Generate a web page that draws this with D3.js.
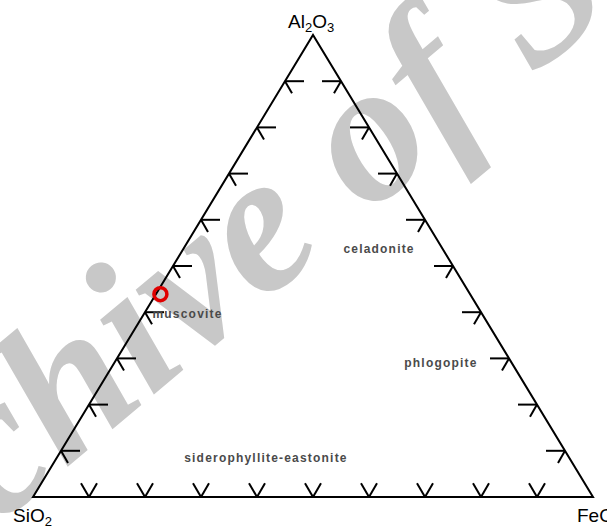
<!DOCTYPE html>
<html>
<head>
<meta charset="utf-8">
<script src="https://cdn.jsdelivr.net/npm/d3@7"></script>
<style>
  body { margin: 0; background: #fff; }
  .edge { fill: none; stroke: #000; stroke-width: 2; }
  .tick { stroke: #000; stroke-width: 2; }
  .vlabel { font-family: "Liberation Sans", Arial, sans-serif; font-size: 19px; fill: #000; }
  .field { font-family: "Liberation Sans", Arial, sans-serif; font-size: 12px; font-weight: bold; fill: #4a4a4a; letter-spacing: 1.2px; }
  .wm { font-family: "Liberation Serif", "Times New Roman", serif; font-style: italic; font-weight: bold; font-size: 200px; fill: #c8c8c8; }
</style>
</head>
<body>
<div id="container"></div>
<script>
// ternary data: fractions of Al2O3 and FeO (SiO2 = rest)
const tickFractions = [0.1, 0.2, 0.3, 0.4, 0.5, 0.6, 0.7, 0.8, 0.9];

const fieldNames = ["celadonite", "muscovite", "phlogopite", "siderophyllite-eastonite"];
const fieldAl2O3 = [0.528, 0.388, 0.281, 0.076];
const fieldFeO   = [0.354, 0.082, 0.588, 0.378];

const sampleAl2O3 = [0.439];
const sampleFeO   = [0.008];

const watermark = "Archive of SID";

const width = 607, height = 526;

const svg = d3.select("#container").append("svg")
  .attr("width", width)
  .attr("height", height);

// horizontal position = FeO + Al2O3/2, vertical = Al2O3
const xScale = d3.scaleLinear().domain([0, 1]).range([33, 593]);
const yScale = d3.scaleLinear().domain([0, 1]).range([497, 35]);
const proj = (al, fe) => [xScale(fe + al / 2), yScale(al)];

// watermark behind everything
svg.append("text")
  .attr("class", "wm")
  .attr("transform", "translate(-165,662) rotate(-40)")
  .text(watermark);

const chart = svg.append("g");

// triangle outline
const corners = [proj(0, 0), proj(1, 0), proj(0, 1)];
chart.append("path")
  .attr("class", "edge")
  .attr("d", d3.line()(corners) + "Z");

// ticks: two short arms along the grid directions
const s60 = Math.sin(Math.PI / 3), c60 = 0.5;
const tickSegs = [];
tickFractions.forEach(t => {
  // left edge (FeO = 0)
  let p = proj(t, 0);
  tickSegs.push([p, [p[0] + 19, p[1]]]);
  tickSegs.push([p, [p[0] + 14 * c60, p[1] + 14 * s60]]);
  // right edge (SiO2 = 0)
  p = proj(t, 1 - t);
  tickSegs.push([p, [p[0] - 19, p[1]]]);
  tickSegs.push([p, [p[0] - 14 * c60, p[1] + 14 * s60]]);
  // bottom edge (Al2O3 = 0)
  p = proj(0, t);
  tickSegs.push([p, [p[0] - 16 * c60, p[1] - 16 * s60]]);
  tickSegs.push([p, [p[0] + 16 * c60, p[1] - 16 * s60]]);
});
chart.selectAll(".tick")
  .data(tickSegs)
  .enter()
  .append("line")
  .attr("class", "tick")
  .attr("x1", d => d[0][0]).attr("y1", d => d[0][1])
  .attr("x2", d => d[1][0]).attr("y2", d => d[1][1]);

// field names
chart.selectAll(".field")
  .data(fieldNames)
  .enter()
  .append("text")
  .attr("class", "field")
  .attr("text-anchor", "middle")
  .attr("x", (d, i) => proj(fieldAl2O3[i], fieldFeO[i])[0])
  .attr("y", (d, i) => proj(fieldAl2O3[i], fieldFeO[i])[1])
  .text(d => d);

// sample point
chart.selectAll(".sample")
  .data(sampleAl2O3)
  .enter()
  .append("circle")
  .attr("class", "sample")
  .attr("cx", (d, i) => proj(d, sampleFeO[i])[0])
  .attr("cy", (d, i) => proj(d, sampleFeO[i])[1])
  .attr("r", 6.5)
  .attr("fill", "none")
  .attr("stroke", "#e00000")
  .attr("stroke-width", 3.5);

// vertex labels with subscripts
const addLabel = (x, y, parts) => {
  const t = svg.append("text").attr("class", "vlabel").attr("x", x).attr("y", y);
  parts.forEach(([s, sub], i) => {
    t.append("tspan")
      .attr("font-size", sub ? "13px" : null)
      .attr("dy", sub ? 4 : (i > 0 ? -4 : 0))
      .text(s);
  });
};
addLabel(288, 28, [["Al"], ["2", true], ["O"], ["3", true]]);
addLabel(13, 522, [["SiO"], ["2", true]]);
svg.append("text").attr("class", "vlabel").attr("x", 577).attr("y", 522).text("FeO");
</script>
</body>
</html>
